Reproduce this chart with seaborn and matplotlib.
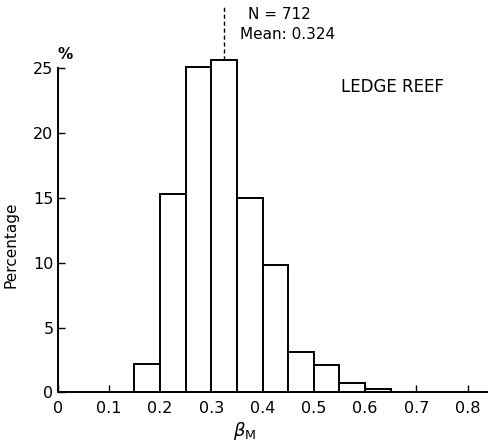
import numpy as np
import matplotlib
matplotlib.use("Agg")
import matplotlib.pyplot as plt
import seaborn as sns

# Data
bin_edges = [0.15, 0.20, 0.25, 0.30, 0.35, 0.40, 0.45, 0.50, 0.55, 0.60, 0.65]
percentages = [2.2, 15.25, 25.05, 25.6, 15.0, 9.85, 3.15, 2.15, 0.75, 0.25]
x_ticks = [0, 0.1, 0.2, 0.3, 0.4, 0.5, 0.6, 0.7, 0.8]
x_tick_labels = ["0", "0.1", "0.2", "0.3", "0.4", "0.5", "0.6", "0.7", "0.8"]
y_ticks = [0, 5, 10, 15, 20, 25]
mean_value = 0.324
n_value = 712

sns.set_theme(style="ticks")
plt.rcParams['font.family'] = ['DejaVu Sans']

centers = [(a + b) / 2 for a, b in zip(bin_edges[:-1], bin_edges[1:])]

fig = plt.figure(figsize=(4.88, 4.41), dpi=100)
ax = fig.add_axes([0.118, 0.110, 0.880, 0.736])

sns.histplot(x=centers, weights=percentages, bins=bin_edges, stat="count",
             color="white", edgecolor="black", linewidth=1.4, alpha=1,
             ax=ax)
for p in ax.patches:
    p.set_clip_on(False)

ax.set_xlim(0, 0.838)
ax.set_ylim(0, 25)
ax.set_xticks(x_ticks)
ax.set_xticklabels(x_tick_labels)
ax.set_yticks(y_ticks)
ax.tick_params(direction="in", length=5, width=1.0, labelsize=11.5, colors="black")
ax.tick_params(axis="x", pad=6)
ax.tick_params(axis="y", pad=3)
sns.despine(ax=ax)
for s in ["left", "bottom"]:
    ax.spines[s].set_linewidth(1.4)
    ax.spines[s].set_color("black")

ax.set_ylabel("Percentage", fontsize=11, color="black")
ax.yaxis.set_label_coords(-0.090, 0.454)
ax.set_xlabel(r"$\beta_{\mathrm{M}}$", fontsize=13, color="black")
ax.xaxis.set_label_coords(0.435, -0.085)

ax.plot([mean_value, mean_value], [25.6, 29.7], color="black", lw=1.0,
        ls=(0, (3, 2)), clip_on=False)

ax.text(0.372, 29.1, f"N = {n_value}", fontsize=11, va="center", ha="left",
        color="black", clip_on=False)
ax.text(0.356, 27.6, f"Mean: {mean_value}", fontsize=11, va="center", ha="left",
        color="black", clip_on=False)
ax.text(0.553, 23.5, "LEDGE REEF", fontsize=12, va="center", ha="left",
        color="black")
ax.text(0.0, 26.0, "%", fontsize=11, fontweight="bold", va="center", ha="left",
        color="black", clip_on=False)

fig.savefig("out.png", dpi=100, facecolor="white")
